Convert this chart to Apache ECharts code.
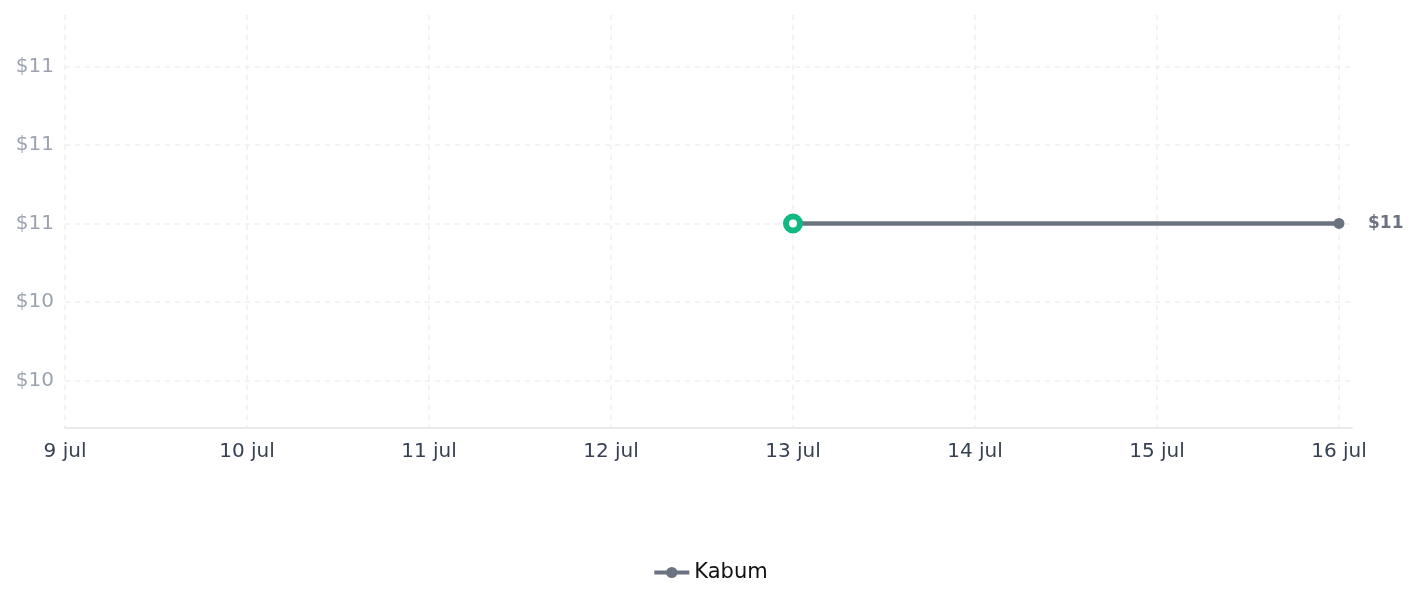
<!DOCTYPE html>
<html>
<head>
<meta charset="utf-8">
<script src="https://cdn.jsdelivr.net/npm/echarts@6/dist/echarts.min.js"></script>
<style>
html,body{margin:0;padding:0;background:#fff;}
#chart{width:1420px;height:607px;}
</style>
</head>
<body>
<div id="chart"></div>
<script>
// ---- data ----
const seriesName = 'Kabum';
const dates = ['2024-07-13', '2024-07-16'];
const prices = [10.6, 10.6];
const xTickDates = ['2024-07-09','2024-07-10','2024-07-11','2024-07-12','2024-07-13','2024-07-14','2024-07-15','2024-07-16'];
const yTicks = [10.2, 10.4, 10.6, 10.8, 11.0];
const xRange = ['2024-07-09T00:00:00Z', '2024-07-16T01:43:00Z'];
const yRange = [10.079, 11.131];

// ---- chart ----
const toTs = s => Date.parse(s.length === 10 ? s + 'T00:00:00Z' : s);
const FONT = 'DejaVu Sans';
const chart = echarts.init(document.getElementById('chart'));
const data = dates.map((d, i) => {
  const item = { value: [toTs(d), prices[i]] };
  if (i === 0) {
    item.symbolSize = 14;
    item.itemStyle = { color: '#ffffff', borderColor: '#10b981', borderWidth: 6 };
  }
  return item;
});
const gridLine = { show: true, lineStyle: { color: '#efeff1', type: [5, 5], width: 1.5 } };
chart.setOption({
  animation: false,
  grid: { left: 65, right: 68, top: 15, bottom: 179, containLabel: false },
  xAxis: {
    type: 'value',
    min: toTs(xRange[0]),
    max: toTs(xRange[1]),
    axisLine: { show: true, lineStyle: { color: '#e3e4e8', width: 1.5 } },
    axisTick: { show: false, customValues: xTickDates.map(toTs) },
    axisLabel: {
      customValues: xTickDates.map(toTs),
      formatter: v => new Date(v).getUTCDate() + ' jul',
      color: '#374151', fontSize: 20, fontFamily: FONT, margin: 14,
      hideOverlap: false
    },
    splitLine: gridLine
  },
  yAxis: {
    type: 'value',
    min: yRange[0],
    max: yRange[1],
    axisLine: { show: false },
    axisTick: { show: false, customValues: yTicks },
    axisLabel: {
      customValues: yTicks,
      formatter: v => '$' + Math.round(v),
      color: '#9ca3af', fontSize: 20, fontFamily: FONT, margin: 11,
      padding: [4, 0, 0, 0]
    },
    splitLine: gridLine
  },
  legend: {
    bottom: 19,
    left: 'center',
    itemWidth: 35,
    itemHeight: 14,
    itemGap: 8,
    lineStyle: { width: 4 },
    textStyle: { color: '#111111', fontSize: 21, fontFamily: FONT },
    data: [seriesName]
  },
  series: [{
    name: seriesName,
    type: 'line',
    data: data,
    symbol: 'circle',
    symbolSize: 11,
    showAllSymbol: true,
    lineStyle: { color: '#6b7280', width: 4.5 },
    itemStyle: { color: '#6b7280' },
    endLabel: {
      show: true,
      formatter: p => '$' + Math.round(p.value[1]),
      color: '#6b7280', fontSize: 17, fontWeight: 'bold', fontFamily: FONT,
      distance: 29
    },
    emphasis: { disabled: true }
  }]
});
</script>
</body>
</html>
